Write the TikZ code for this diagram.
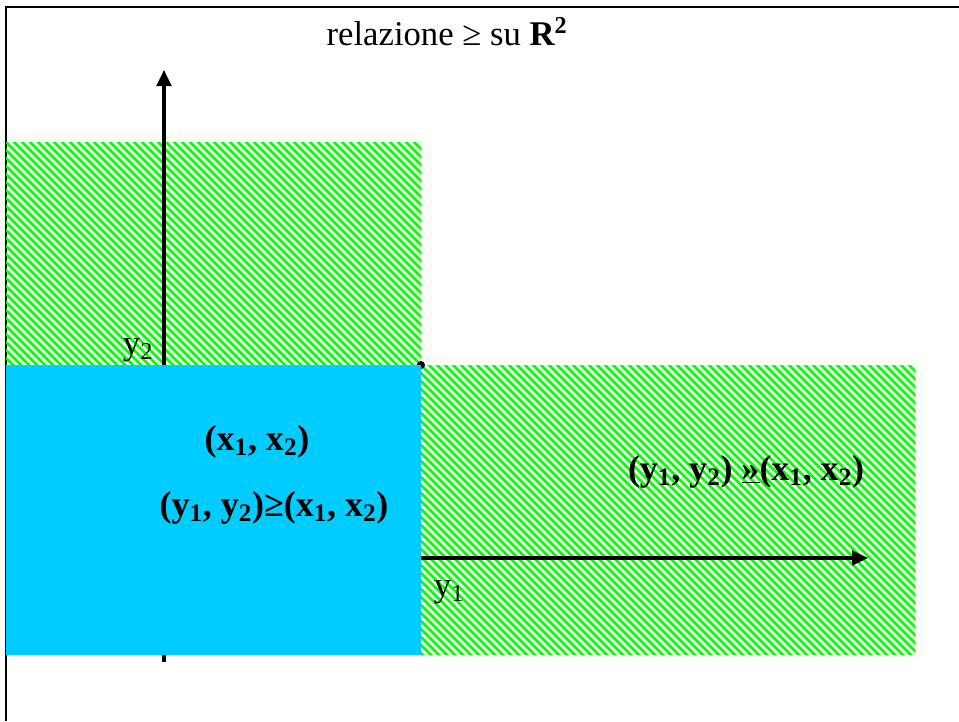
\documentclass[tikz,border=0pt]{standalone}
\usepackage{fontspec}
\setmainfont{Liberation Serif}
\usetikzlibrary{arrows.meta, positioning}
\definecolor{hatchgreen}{HTML}{00FF00}
\definecolor{regionblue}{HTML}{00CCFF}
\tikzset{
  pageframe/.style={line width=2.2pt},
  hatchline/.style={draw=hatchgreen, line width=2.1pt},
  axis/.style={line width=2.3pt, -{Triangle[length=12pt, width=11pt]}},
  title/.style={font=\fontsize{26}{30}\selectfont, inner sep=0pt},
  axlbl/.style={font=\fontsize{26}{30}\selectfont, inner sep=0pt},
  rel/.style={font=\bfseries\fontsize{27}{32}\selectfont, inner sep=0pt},
}

\begin{document}
\begin{tikzpicture}[x=0.75pt, y=-0.75pt]
  \useasboundingbox (0,0) rectangle (959,721);
  % frame
  \draw[pageframe] (6,721) -- (6,7) -- (959,7);
  % hatched regions
  \begin{scope}
    \clip (6,142) rectangle (421,365) (421,365) rectangle (915,655);
    \foreach \a in {-660,-652,...,920}
      \draw[hatchline] (\a,140) -- ++(520,520);
  \end{scope}
  % axes
  \coordinate (ybase) at (164,662);
  \coordinate (ytip) at (164,70);
  \coordinate (xbase) at (421,558);
  \coordinate (xtip) at (868,558);
  \draw[axis] (ybase) -- (ytip);
  \draw[axis] (xbase) -- (xtip);
  \fill (421,365) circle (3pt);
  % lower region
  \fill[regionblue] (6,365) rectangle (421,655);
  \node (ttl) [title] at (447,32) {relazione ≥ su \textbf{R\textsuperscript{2}}};
  \node (ylab) [axlbl] at (138,350) {y\textsubscript{2}};
  \node (xlab) [axlbl] at (449,592) {y\textsubscript{1}};
  \node (pt) [rel] at (257,442) {(x\textsubscript{1}, x\textsubscript{2})};
  \node (weak) [rel] at (274,508) {(y\textsubscript{1}, y\textsubscript{2})≥(x\textsubscript{1}, x\textsubscript{2})};
  \node (strict) [rel] at (746,472) {(y\textsubscript{1}, y\textsubscript{2}) \underline{»}(x\textsubscript{1}, x\textsubscript{2})};
\end{tikzpicture}
\end{document}
